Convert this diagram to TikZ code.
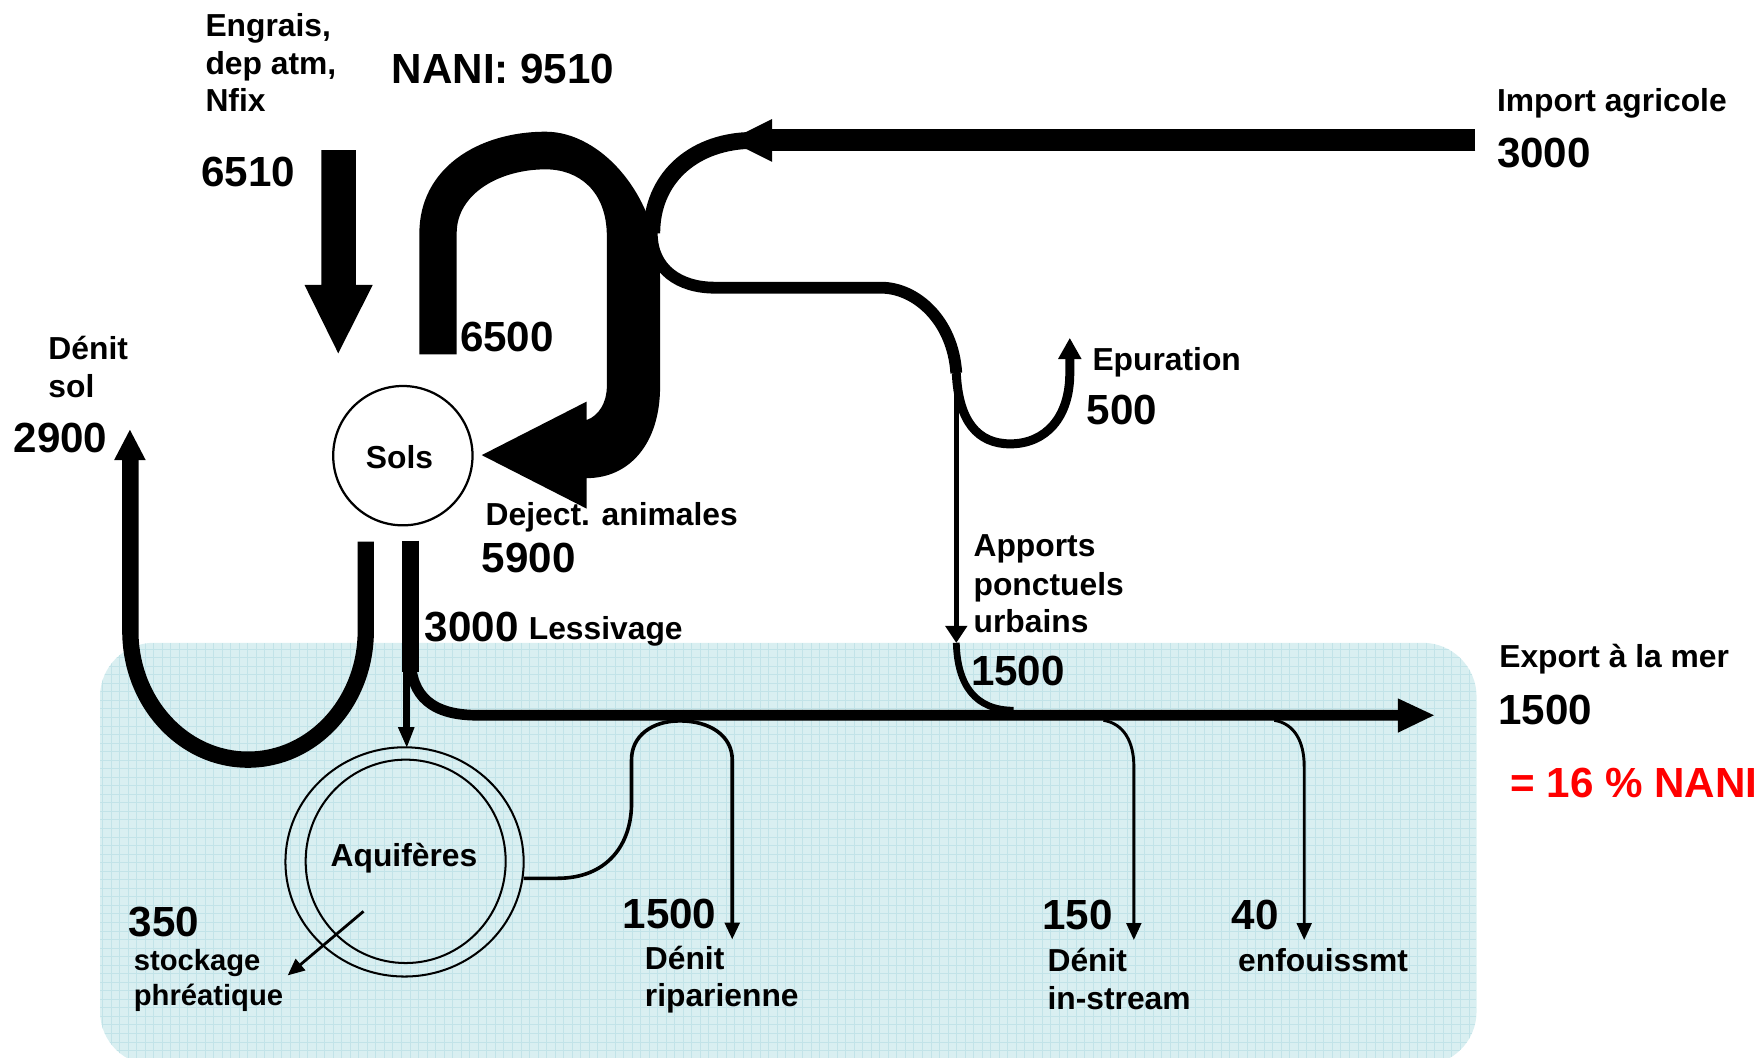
\documentclass[tikz,border=0pt]{standalone}
\usepackage{fontspec}
\setmainfont{Liberation Sans}
\usetikzlibrary{arrows.meta,shapes.geometric}
\definecolor{boxfill}{HTML}{D9EFF1}
\definecolor{boxgrid}{HTML}{C2E3E8}
\definecolor{nanired}{HTML}{FF0000}
\begin{document}
\begin{tikzpicture}[x=1pt,y=-1pt,line cap=butt,
  lab/.style={font=\fontsize{28.3}{34}\selectfont\bfseries, inner sep=0pt, anchor=base west},
  labs/.style={font=\fontsize{26}{31}\selectfont\bfseries, inner sep=0pt, anchor=base west},
  num/.style={font=\fontsize{37.5}{44}\selectfont\bfseries, inner sep=0pt, anchor=base west},
  thinarrow/.style={-{Triangle[length=15pt,width=13pt]}},
  flow/.style={draw=black}]
\useasboundingbox (0,0) rectangle (1568,941);
% background zone
\begin{scope}
  \clip (0,0) rectangle (1568,941);
  \fill[boxfill, rounded corners=48] (89,572) rectangle (1314,948);
  \begin{scope}
    \clip[rounded corners=48] (89,572) rectangle (1314,948);
    \draw[boxgrid, line width=0.7] (89,948) grid[step=7.6pt] (1314,572);
  \end{scope}
\end{scope}

% nodes
\node[circle, draw, line width=2, minimum size=124pt, inner sep=0pt] (sols) at (358.5,405.5) {};
\node[font=\fontsize{28.3}{34}\selectfont\bfseries, inner sep=0pt, anchor=base] (solst) at (355.5,416.8) {Sols};
\node[ellipse, draw, line width=1.8, minimum width=212pt, minimum height=204pt, inner sep=0pt] (aqo) at (360,767) {};
\node[ellipse, draw, line width=1.8, minimum width=178pt, minimum height=181pt, inner sep=0pt] (aqi) at (361,766.5) {};

% named coordinates
\coordinate (imptail) at (1313,125);
\coordinate (imphead) at (687,125);
\coordinate (split) at (580,207.5);
\coordinate (urbtop) at (851,332);
\coordinate (urbarrow) at (851,572);
\coordinate (merge) at (902,632);
\coordinate (lessiv) at (365.3,481);
\coordinate (mainend) at (1244,636.5);
\coordinate (aqout) at (466,781.6);
\coordinate (ripend) at (651.6,836);
\coordinate (instr) at (982,641);
\coordinate (enfo) at (1134,641);
\coordinate (densoltop) at (325.5,482);

% Engrais arrow
\fill (286,133.5) -- (316.6,133.5) -- (316.6,253.6) -- (331.7,253.6) -- (301,314.4) -- (271,253.6) -- (286,253.6) -- cycle;

% big recycling flow 6500 / dejections
\fill (373.2,315.3) -- (373.2,207.6) .. controls (373.2,150) and (425,117.2) .. (485.6,117.2)
  .. controls (535,117.2) and (587.4,175) .. (587.4,250) -- (587.4,344)
  .. controls (587.4,395) and (560,425.5) .. (522,425.5) -- (522,452.6) -- (428.7,405) -- (522,357.4) -- (522,373.8)
  .. controls (533,370) and (540,358) .. (540,344) -- (540,210)
  .. controls (540,170) and (515,150.7) .. (485.6,150.7)
  .. controls (445,150.7) and (406.4,172) .. (406.4,207.6) -- (406.4,315.3) -- cycle;

% import agricole
\draw[line width=19.6] (imptail) -- (imphead);
\fill (687,106) -- (649,125) -- (687,144) -- cycle;
\draw[line width=15] (imphead) -- (666,125) .. controls (615,127) and (580,160) .. (split);
\draw[line width=10.5] (580,200) -- (split) .. controls (580,240) and (605,256) .. (636,256) -- (784,256)
  .. controls (815,256) and (848,285) .. (urbtop);

% epuration loop
\draw[line width=8] (urbtop) .. controls (853,375) and (870,395) .. (899,395) .. controls (930,395) and (952,372) .. (952,332) -- (952,318);
\fill (941.5,319.5) -- (952,301) -- (962.5,319.5) -- cycle;

% apports ponctuels urbains
\draw[line width=4.5] (urbtop) -- (851,558);
\fill (841,557) -- (urbarrow) -- (861,557) -- cycle;
\draw[line width=6] (urbarrow) .. controls (852,610) and (868,632) .. (merge);

% lessivage and river
\draw[line width=15] (lessiv) -- (365.3,598);
\draw[line width=9.5] (365.3,585) .. controls (365.3,620) and (385,636.5) .. (425,636.5) -- (mainend);
\fill (1244,621.5) -- (1276,636.5) -- (1244,652) -- cycle;
\draw[line width=6] (362,590) -- (362,648);
\fill (354,647) -- (362,665) -- (369,647) -- cycle;

% denit sol
\draw[line width=14.5] (densoltop) -- (325.5,561.5) .. controls (325.5,624.7) and (278.6,676) .. (220.7,676)
  .. controls (162.8,676) and (116,624.7) .. (116,561.5) -- (116,408);
\fill (101.5,409.5) -- (115.6,382.5) -- (129.7,409.5) -- cycle;

% aquifer -> riparian
\draw[line width=3.2, thinarrow] (aqout) -- (496,781.6) .. controls (540,781.6) and (562,752) .. (562,714.6) -- (562,676)
  .. controls (562,655) and (580,641.5) .. (605,641.5) .. controls (632,641.5) and (651.6,655) .. (651.6,676) -- (ripend);
% in-stream, enfouissement
\draw[line width=2.6, thinarrow] (instr) .. controls (1000,644) and (1009,660) .. (1009,682) -- (1009,836.5);
\draw[line width=2.6, thinarrow] (enfo) .. controls (1152,644) and (1160.6,660) .. (1160.6,682) -- (1160.6,836.5);
% stockage
\coordinate (stk) at (323.5,811);
\coordinate (stkend) at (256,868);
\draw[line width=2.5, thinarrow] (stk) -- (stkend);

% texts
\node[lab] (e1) at (182.7,32.6) {Engrais,};
\node[lab] (e2) at (182.7,65.9) {dep atm,};
\node[lab] (e3) at (182.7,99.4) {Nfix};
\node[num] (nani) at (348.4,74.2) {NANI: 9510};
\node[num] (n6510) at (178.8,166.1) {6510};
\node[num] (n6500) at (409.2,313) {6500};
\node[lab] (ds1) at (42.9,319.5) {Dénit};
\node[lab] (ds2) at (42.9,353.5) {sol};
\node[num] (n2900) at (11.9,402.5) {2900};
\node[lab] (deject) at (432,467.5) {Deject. animales};
\node[num] (n5900) at (428.7,509.5) {5900};
\node[num] (n3000a) at (378,570.5) {3000};
\node[lab] (less) at (470.4,569.5) {Lessivage};
\node[lab] (imp) at (1332,99.5) {Import agricole};
\node[num] (n3000b) at (1332,149.5) {3000};
\node[lab] (epu) at (972,329.8) {Epuration};
\node[num] (n500) at (967,377.5) {500};
\node[lab] (ap1) at (866.2,495.5) {Apports};
\node[lab] (ap2) at (866.2,529.5) {ponctuels};
\node[lab] (ap3) at (866.2,563.3) {urbains};
\node[num] (n1500u) at (864,610) {1500};
\node[lab] (exp) at (1334,594) {Export à la mer};
\node[num] (n1500e) at (1333,645) {1500};
\node[num, text=nanired] (pct) at (1344,710) {= 16 \% NANI};
\node[lab, anchor=base] (aqt) at (359.5,771.3) {Aquifères};
\node[num] (n350) at (114.5,833) {350};
\node[labs] (st1) at (118.9,863.5) {stockage};
\node[labs] (st2) at (118.9,894.5) {phréatique};
\node[num] (n1500r) at (553.9,826) {1500};
\node[lab] (dr1) at (573.7,863) {Dénit};
\node[lab] (dr2) at (573.7,896) {riparienne};
\node[num] (n150) at (927.5,827.5) {150};
\node[lab] (di1) at (932,864.5) {Dénit};
\node[lab] (di2) at (932,898.5) {in-stream};
\node[num] (n40) at (1096,827.5) {40};
\node[lab] (enf) at (1101.7,864.5) {enfouissmt};
\end{tikzpicture}
\end{document}
